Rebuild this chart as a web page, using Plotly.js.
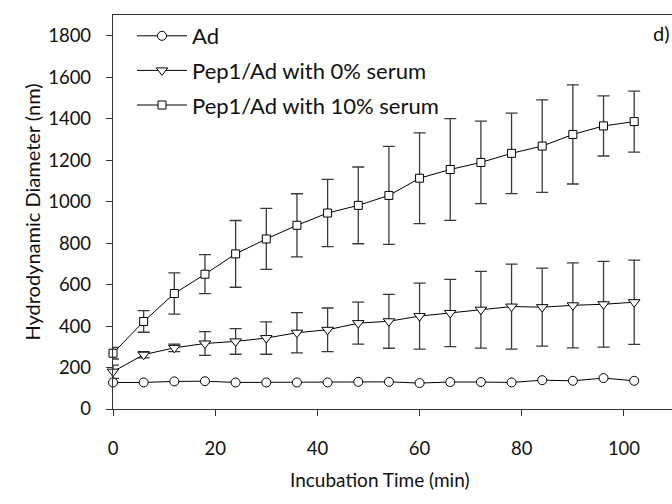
<!DOCTYPE html>
<html>
<head>
<meta charset="utf-8">
<script src="https://cdn.plot.ly/plotly-3.0.1.min.js"></script>
<style>
  html, body { margin: 0; padding: 0; background: #fff; }
  #chart { width: 672px; height: 504px; }
</style>
</head>
<body>
<div id="chart"></div>
<script>
// Incubation time points (min)
const time = [0, 6, 12, 18, 24, 30, 36, 42, 48, 54, 60, 66, 72, 78, 84, 90, 96, 102];

// Hydrodynamic diameter (nm), mean values
const adMean = [128, 128, 133, 134, 128, 128, 128, 128, 131, 131, 125, 130, 130, 128, 139, 136, 149, 136];
const pep0Mean = [180, 262, 295, 316, 326, 342, 368, 382, 414, 423, 448, 463, 479, 494, 491, 500, 505, 515];
const pep10Mean = [269, 422, 557, 650, 748, 820, 886, 945, 982, 1030, 1113, 1155, 1189, 1233, 1268, 1324, 1365, 1386];

// Standard deviations (nm)
const pep0Err = [32, 15, 18, 57, 62, 78, 97, 105, 101, 130, 159, 162, 185, 205, 188, 205, 207, 203];
const pep10Err = [28, 52, 99, 94, 161, 147, 152, 162, 185, 236, 219, 245, 199, 194, 223, 239, 145, 147];

// Series names
const seriesNames = ['Ad', 'Pep1/Ad with 0% serum', 'Pep1/Ad with 10% serum'];

const fontFamily = 'Lato, "Open Sans", sans-serif';
const textColor = '#111';
const markerLine = { color: '#000', width: 1 };
const errStyle = { thickness: 1.3, width: 6, color: '#3a3a3a' };

const traces = [
  {
    x: time, y: adMean, name: seriesNames[0], legendgroup: 'a',
    mode: 'lines+markers', cliponaxis: false,
    line: { color: '#000', width: 1 },
    marker: { symbol: 'circle', size: 9, color: '#fff', line: markerLine }
  },
  {
    x: time, y: pep0Mean, name: seriesNames[1], legendgroup: 'b',
    mode: 'lines+markers', cliponaxis: false,
    line: { color: '#000', width: 1 },
    marker: { symbol: 'triangle-down', size: 10, color: '#fff', line: markerLine },
    error_y: Object.assign({ type: 'data', array: pep0Err, visible: true }, errStyle)
  },
  {
    x: time, y: pep10Mean, name: seriesNames[2], legendgroup: 'c',
    mode: 'lines+markers', cliponaxis: false,
    line: { color: '#000', width: 1 },
    marker: { symbol: 'square', size: 8, color: '#fff', line: markerLine },
    error_y: Object.assign({ type: 'data', array: pep10Err, visible: true }, errStyle)
  }
];

const layout = {
  width: 672, height: 504,
  margin: { l: 113, r: 0, t: 15, b: 95 },
  paper_bgcolor: '#fff', plot_bgcolor: '#fff',
  font: { family: fontFamily, size: 19, color: textColor },
  showlegend: true,
  legend: {
    x: 0.034, y: 1.0, xanchor: 'left', yanchor: 'top',
    bgcolor: 'rgba(0,0,0,0)', borderwidth: 0,
    traceorder: 'grouped', tracegroupgap: 3,
    itemwidth: 50,
    font: { family: fontFamily, size: 22, color: textColor }
  },
  xaxis: {
    range: [0, 109.4], autorange: false,
    tickmode: 'array', tickvals: [0, 20, 40, 60, 80, 100],
    ticks: 'outside', ticklen: 6, tickwidth: 1, tickcolor: '#333',
    showline: true, linecolor: '#333', linewidth: 1.2, mirror: true,
    showgrid: false, zeroline: false,
    ticklabelstandoff: 17,
    tickfont: { family: fontFamily, size: 18.5, color: textColor }
  },
  yaxis: {
    range: [0, 1900], autorange: false,
    tickmode: 'array', tickvals: [0, 200, 400, 600, 800, 1000, 1200, 1400, 1600, 1800],
    ticks: 'outside', ticklen: 6, tickwidth: 1, tickcolor: '#333',
    showline: true, linecolor: '#333', linewidth: 1.2, mirror: false,
    showgrid: false, zeroline: false,
    ticklabelstandoff: 11,
    tickfont: { family: fontFamily, size: 18.5, color: textColor },
    title: { text: 'Hydrodynamic Diameter (nm)', standoff: 2,
             font: { family: fontFamily, size: 20, color: textColor } }
  },
  annotations: [
    {
      text: 'Incubation Time (min)', xref: 'paper', yref: 'paper',
      x: 0.476, y: -0.18, xanchor: 'center', yanchor: 'middle',
      showarrow: false, font: { family: fontFamily, size: 19, color: textColor }
    },
    {
      text: 'd)', xref: 'paper', yref: 'paper',
      x: 1.0, y: 0.955, xanchor: 'right', yanchor: 'middle',
      showarrow: false, font: { family: fontFamily, size: 20, color: textColor }
    }
  ]
};

Plotly.newPlot('chart', traces, layout, { displayModeBar: false, staticPlot: true });
</script>
</body>
</html>
